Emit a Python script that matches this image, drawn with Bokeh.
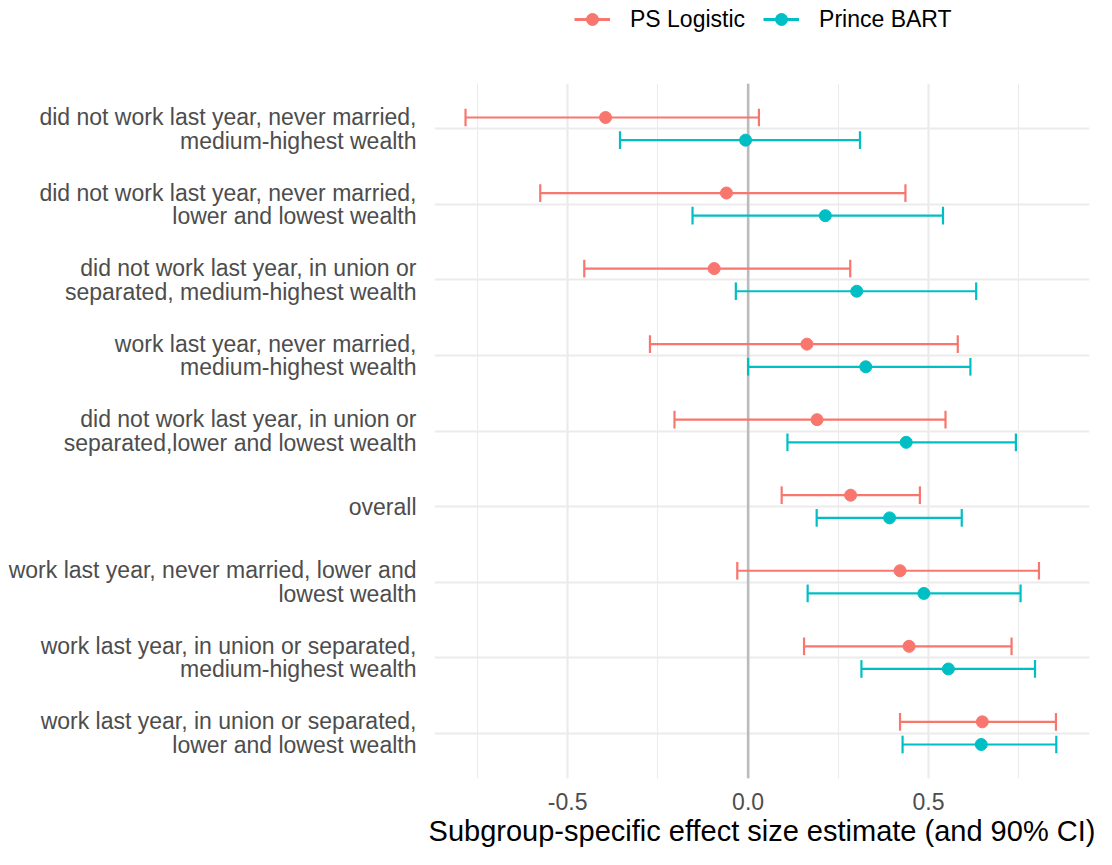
from bokeh.plotting import figure
from bokeh.models import (ColumnDataSource, Range1d, FixedTicker, Span, Legend, LegendItem)
from bokeh.layouts import column
from bokeh.transform import dodge
from bokeh.embed import file_html
from bokeh.resources import INLINE

# categories listed top to bottom
categories = [
    "did not work last year, never married,\nmedium-highest wealth",
    "did not work last year, never married,\nlower and lowest wealth",
    "did not work last year, in union or\nseparated, medium-highest wealth",
    "work last year, never married,\nmedium-highest wealth",
    "did not work last year, in union or\nseparated,lower and lowest wealth",
    "overall",
    "work last year, never married, lower and\nlowest wealth",
    "work last year, in union or separated,\nmedium-highest wealth",
    "work last year, in union or separated,\nlower and lowest wealth",
]

ps_est   = [-0.395, -0.060, -0.094, 0.163, 0.191, 0.284, 0.421, 0.446, 0.649]
ps_lower = [-0.783, -0.576, -0.454, -0.272, -0.204, 0.093, -0.030, 0.155, 0.421]
ps_upper = [0.030, 0.436, 0.283, 0.581, 0.547, 0.476, 0.806, 0.730, 0.853]

bart_est   = [-0.007, 0.214, 0.301, 0.326, 0.438, 0.392, 0.487, 0.555, 0.646]
bart_lower = [-0.355, -0.154, -0.034, 0.000, 0.109, 0.190, 0.165, 0.314, 0.428]
bart_upper = [0.310, 0.540, 0.632, 0.616, 0.742, 0.592, 0.755, 0.795, 0.854]

series_names = ["PS Logistic", "Prince BART"]
x_ticks = [-0.5, 0.0, 0.5]
x_minor = [-0.75, -0.25, 0.25, 0.75]

n = len(categories)
ypos = [n - i for i in range(n)]

FONT = "Liberation Sans"
RED = "#F8766D"
CYAN = "#00BFC4"
W = 1096
TOP = 83
H = 849 - TOP

p = figure(width=W, height=H, output_backend="svg", toolbar_location=None,
           x_range=Range1d(-0.869, 0.946), y_range=Range1d(0.4, 9.6),
           min_border_left=434, min_border_right=7, min_border_top=0,
           min_border_bottom=60)
p.outline_line_color = None
p.background_fill_color = "white"

# axes
p.xaxis.ticker = FixedTicker(ticks=x_ticks, minor_ticks=x_minor)
p.xaxis.major_label_overrides = {-0.5: "-0.5", 0.0: "0.0", 0.5: "0.5"}
p.yaxis.ticker = FixedTicker(ticks=ypos)
p.yaxis.major_label_overrides = {y: c for y, c in zip(ypos, categories)}
for ax in (p.xaxis[0], p.yaxis[0]):
    ax.axis_line_color = None
    ax.major_tick_line_color = None
    ax.minor_tick_line_color = None
    ax.major_label_text_font = FONT
    ax.major_label_text_font_size = "23px"
    ax.major_label_text_color = "#4D4D4D"
p.yaxis.major_label_standoff = 12
p.yaxis.major_label_text_line_height = 0.9
p.xaxis.major_label_standoff = 8
p.xaxis.axis_label = "Subgroup-specific effect size estimate (and 90% CI)"
p.xaxis.axis_label_text_font = FONT
p.xaxis.axis_label_text_font_size = "29px"
p.xaxis.axis_label_text_font_style = "normal"
p.xaxis.axis_label_text_color = "black"
p.xaxis.axis_label_standoff = 2

# grids
p.xgrid.ticker = FixedTicker(ticks=x_ticks, minor_ticks=x_minor)
p.xgrid.grid_line_color = "#EBEBEB"
p.xgrid.grid_line_width = 2.2
p.xgrid.minor_grid_line_color = "#EBEBEB"
p.xgrid.minor_grid_line_width = 1.1
p.ygrid.ticker = FixedTicker(ticks=ypos)
p.ygrid.grid_line_color = "#EBEBEB"
p.ygrid.grid_line_width = 2.2

zero = Span(location=0, dimension="height", line_color="#BBBBBB", line_width=2.5,
            level="underlay")
p.add_layout(zero)

ps_src = ColumnDataSource(dict(y=ypos, est=ps_est, lo=ps_lower, hi=ps_upper))
bart_src = ColumnDataSource(dict(y=ypos, est=bart_est, lo=bart_lower, hi=bart_upper))

OFF = 0.15
CAP = 0.117
LW = 2.2

def draw(src, off, color):
    p.segment(x0="lo", x1="hi", y0=dodge("y", off), y1=dodge("y", off),
              source=src, line_color=color, line_width=LW)
    p.segment(x0="lo", x1="lo", y0=dodge("y", off - CAP), y1=dodge("y", off + CAP),
              source=src, line_color=color, line_width=LW)
    p.segment(x0="hi", x1="hi", y0=dodge("y", off - CAP), y1=dodge("y", off + CAP),
              source=src, line_color=color, line_width=LW)
    p.scatter(x="est", y=dodge("y", off), source=src, size=12,
              fill_color=color, line_color=color)

draw(ps_src, OFF, RED)
draw(bart_src, -OFF, CYAN)

# legend strip above the plot (its proxy glyphs sit outside the visible range)
lg = figure(width=W, height=TOP, output_backend="svg", toolbar_location=None,
            x_range=Range1d(0, 1), y_range=Range1d(0, 1),
            x_axis_type=None, y_axis_type=None, min_border=0)
lg.outline_line_color = None
items = []
for name, color in zip(series_names, [RED, CYAN]):
    src = ColumnDataSource(dict(x0=[-10], x1=[-9], y0=[-10], y1=[-10], x=[-10], y=[-10]))
    s = lg.segment(x0="x0", x1="x1", y0="y0", y1="y1", source=src,
                   line_color=color, line_width=3)
    m = lg.scatter(x="x", y="y", source=src, size=12, fill_color=color, line_color=color)
    items.append(LegendItem(label=name, renderers=[s, m]))

legend = Legend(items=items, orientation="horizontal", location=(140, 49),
                glyph_width=36, glyph_height=30, label_standoff=20, spacing=18,
                padding=0, margin=0, border_line_color=None,
                background_fill_alpha=0,
                label_text_font=FONT, label_text_font_size="23px",
                label_text_color="black")
lg.add_layout(legend, "center")

layout = column(lg, p, spacing=0)
open("out.html", "w").write(file_html(layout, INLINE))
